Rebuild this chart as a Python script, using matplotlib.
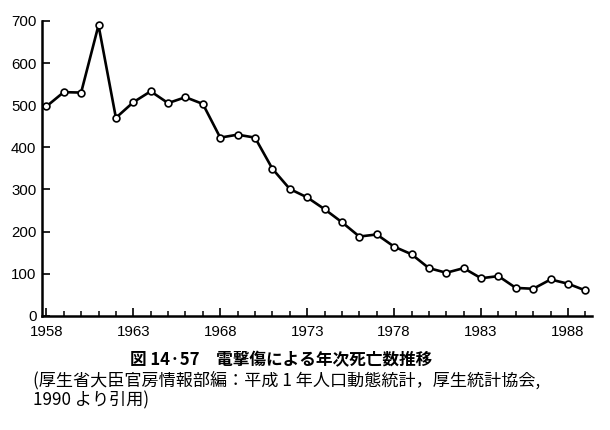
import matplotlib
matplotlib.use("Agg")
import matplotlib.pyplot as plt
from matplotlib.ticker import MultipleLocator

years = list(range(1958, 1990))
deaths = [497, 531, 530, 690, 470, 507, 533, 505, 519, 503, 423, 430, 423, 349,
          301, 281, 253, 222, 188, 193, 164, 146, 113, 102, 113, 89, 94, 66, 64,
          86, 76, 60]
x_major = [1958, 1963, 1968, 1973, 1978, 1983, 1988]
y_ticks = [0, 100, 200, 300, 400, 500, 600, 700]

caption1 = "図 14·57　電撃傷による年次死亡数推移"
caption2 = "(厚生省大臣官房情報部編：平成 1 年人口動態統計，厚生統計協会,"
caption3 = "1990 より引用)"

fig = plt.figure(figsize=(6.1, 4.3), dpi=100)
ax = fig.add_axes([42/610, 1-315.7/430, (592-42)/610, (315.7-21)/430])

ax.plot(years, deaths, color="black", lw=1.9, marker="o", markersize=4.9,
        markerfacecolor="white", markeredgecolor="black", markeredgewidth=1.2,
        zorder=3, clip_on=False)

ax.set_xlim(1957.75, 1989.38)
ax.set_ylim(0, 700)
ax.set_xticks(x_major)
ax.set_xticklabels([str(v) for v in x_major])
ax.xaxis.set_minor_locator(MultipleLocator(1))
ax.set_yticks(y_ticks)
ax.set_yticklabels([str(v) for v in y_ticks])

for s in ["top", "right"]:
    ax.spines[s].set_visible(False)
for s in ["left", "bottom"]:
    ax.spines[s].set_linewidth(1.8)

ax.tick_params(axis="both", which="major", direction="in", length=5.5, width=1.2,
               labelsize=10.8, pad=7)
ax.tick_params(axis="x", which="minor", direction="in", length=3.5, width=1.1)
ax.tick_params(axis="y", pad=4)
for lab in ax.get_xticklabels() + ax.get_yticklabels():
    lab.set_fontfamily("Liberation Sans")

jp = ["Noto Sans CJK JP", "DejaVu Sans"]
fig.text(281/610, 1-360/430, caption1, ha="center", va="center",
         fontsize=12, fontweight="bold", family=jp)
fig.text(33/610, 1-380/430, caption2, ha="left", va="center",
         fontsize=12.3, family=jp)
fig.text(33/610, 1-400/430, caption3, ha="left", va="center",
         fontsize=12.3, family=jp)

fig.savefig("out.png", dpi=100)
